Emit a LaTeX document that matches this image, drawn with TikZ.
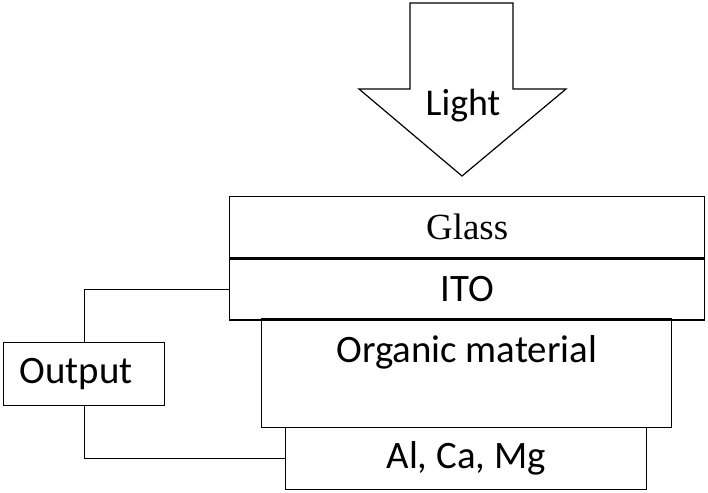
\documentclass[tikz,border=0pt]{standalone}
\usepackage{fontspec}
\setmainfont{Carlito}
\newfontfamily\glassfont{Liberation Serif}
\usetikzlibrary{positioning}

\tikzset{
  slab/.style={draw, line width=1.3bp, inner sep=0pt, anchor=north west,
    font=\fontsize{39}{46}\selectfont},
  wire/.style={line width=1.2bp},
}

\begin{document}
\begin{tikzpicture}[x=1bp,y=-1bp]
    \useasboundingbox (0,0) rectangle (708,493);
    %light arrow
    \draw[line width=1.2bp, line join=miter] (410,3) -- (513,3) -- (513,89) -- (566,89)
      -- (462,176) -- (359,89) -- (410,89) -- cycle;
    \node[font=\fontsize{38}{45}\selectfont] (light) at (463,106) {Light};
    %device layers
    \node[slab, minimum width=475bp, minimum height=61bp,
      font=\glassfont\fontsize{37}{44}\selectfont] (glass) at (229,196) {Glass};
    \node[slab, minimum width=475bp, minimum height=61bp] (ito) at (glass.south west) {ITO};
    \draw[line width=2.2bp] (glass.south west) -- (glass.south east);
    \node[slab, minimum width=410bp, text height=44bp, text depth=65bp] (organic) at (261,318) {Organic material};
    \node[slab, minimum width=361bp, minimum height=62bp] (metal) at (285,427) {Al, Ca, Mg};
    %output
    \node[slab, minimum width=161bp, minimum height=63bp, text width=129bp, align=left] (output) at (3,342) {Output};
    \draw[wire] (output.north) |- (ito.west);
    \draw[wire] (output.south) |- (metal.west);
\end{tikzpicture}
\end{document}
